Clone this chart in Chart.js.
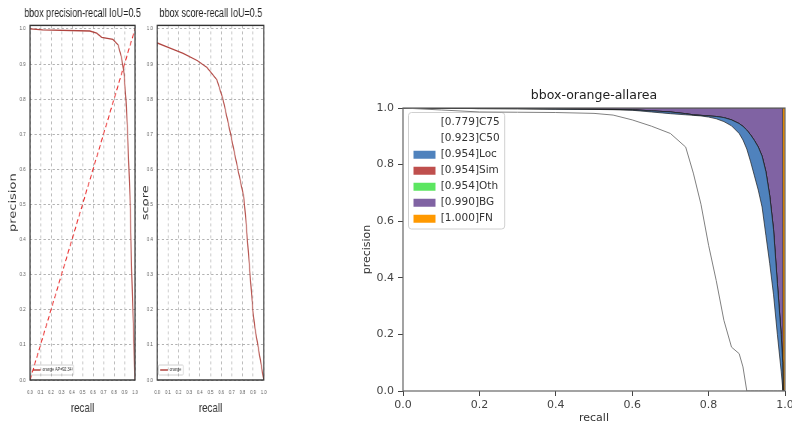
<!DOCTYPE html>
<html>
<head>
<meta charset="utf-8">
<script src="https://cdn.jsdelivr.net/npm/chart.js@4"></script>
<style>
  html, body { margin: 0; padding: 0; background: #fff; }
  #wrap { position: relative; width: 792px; height: 427px; overflow: hidden; }
  canvas { position: absolute; }
  /* the two small panels are squeezed sideways in the original figure */
  .narrow { transform: scaleX(0.75); transform-origin: 0 0; }
</style>
</head>
<body>
<div id="wrap">
  <canvas id="pr" class="narrow" width="220" height="427" style="left:0;top:0"></canvas>
  <canvas id="sr" class="narrow" width="221" height="427" style="left:128px;top:0"></canvas>
  <canvas id="area" width="450" height="347" style="left:355px;top:80px"></canvas>
</div>
<script>
// small panels: precision-recall and score-recall at IoU=0.5
const prRecall    = [0, 0.12, 0.57, 0.635, 0.683, 0.79, 0.84, 0.873, 0.895, 0.914, 0.93, 0.952, 0.968, 0.984, 1.0];
const prPrecision = [1.0, 0.997, 0.994, 0.988, 0.976, 0.970, 0.954, 0.916, 0.874, 0.798, 0.70, 0.522, 0.313, 0.152, 0.0];
const diagRecall    = [0, 1];
const diagPrecision = [0, 1];
const srRecall = [0, 0.12, 0.243, 0.374, 0.467, 0.56, 0.617, 0.682, 0.757, 0.813, 0.832, 0.869, 0.897, 0.916, 1.0];
const srScore  = [0.96, 0.945, 0.93, 0.91, 0.89, 0.855, 0.80, 0.71, 0.60, 0.52, 0.455, 0.31, 0.20, 0.15, 0.0];
const smallTicks = [0, 0.1, 0.2, 0.3, 0.4, 0.5, 0.6, 0.7, 0.8, 0.9, 1.0];

// big panel: bbox-orange-allarea
const recallGrid = [0, 0.1, 0.2, 0.3, 0.4, 0.5, 0.55, 0.6, 0.65, 0.7, 0.74, 0.76, 0.78, 0.8, 0.82, 0.84, 0.86, 0.88, 0.89, 0.9,
                    0.91, 0.92, 0.93, 0.94, 0.95, 0.96, 0.97, 0.98, 0.99, 0.994, 0.995, 1.0];
const c75P = [1.0, 0.993, 0.986, 0.985, 0.984, 0.981, 0.975, 0.958, 0.936, 0.91, 0.862, 0.77, 0.66, 0.515, 0.39, 0.25, 0.155, 0.132, 0.085, 0,
              0, 0, 0, 0, 0, 0, 0, 0, 0, 0, 0, 0];
const c50P = [1.0, 0.999, 0.998, 0.997, 0.996, 0.995, 0.994, 0.992, 0.986, 0.98, 0.976, 0.974, 0.972, 0.968, 0.962, 0.952, 0.937, 0.91, 0.887, 0.855,
              0.81, 0.76, 0.71, 0.65, 0.55, 0.45, 0.34, 0.2, 0.07, 0.01, 0, 0];
const locP = [1.0, 0.999, 0.998, 0.998, 0.997, 0.996, 0.995, 0.994, 0.99, 0.986, 0.98, 0.976, 0.974, 0.972, 0.97, 0.966, 0.958, 0.945, 0.935, 0.922,
              0.905, 0.885, 0.862, 0.83, 0.775, 0.69, 0.57, 0.38, 0.2, 0.1, 0, 0];
const simP = [1.0, 0.999, 0.998, 0.998, 0.997, 0.996, 0.995, 0.994, 0.99, 0.986, 0.98, 0.976, 0.974, 0.972, 0.97, 0.966, 0.958, 0.945, 0.935, 0.922,
              0.905, 0.885, 0.862, 0.83, 0.775, 0.69, 0.57, 0.38, 0.2, 0.1, 0, 0];
const othP = [1.0, 0.999, 0.998, 0.998, 0.997, 0.996, 0.995, 0.994, 0.99, 0.986, 0.98, 0.976, 0.974, 0.972, 0.97, 0.966, 0.958, 0.945, 0.935, 0.922,
              0.905, 0.885, 0.862, 0.83, 0.775, 0.69, 0.57, 0.38, 0.2, 0.1, 0, 0];
const bgP  = [1, 1, 1, 1, 1, 1, 1, 1, 1, 1, 1, 1, 1, 1, 1, 1, 1, 1, 1, 1,
              1, 1, 1, 1, 1, 1, 1, 1, 1, 1, 0, 0];
const fnP  = [1, 1, 1, 1, 1, 1, 1, 1, 1, 1, 1, 1, 1, 1, 1, 1, 1, 1, 1, 1,
              1, 1, 1, 1, 1, 1, 1, 1, 1, 1, 1, 1];
const seriesNames = ['[0.779]C75', '[0.923]C50', '[0.954]Loc', '[0.954]Sim', '[0.954]Oth', '[0.990]BG', '[1.000]FN'];
const seriesP = [c75P, c50P, locP, simP, othP, bgP, fnP];
const fillColors = ['rgb(255,255,255)', 'rgb(255,255,255)', 'rgb(79,130,189)', 'rgb(191,79,77)',
                    'rgb(92,230,97)', 'rgb(128,99,163)', 'rgb(255,153,0)'];
const areaTicks = [0, 0.2, 0.4, 0.6, 0.8, 1.0];

const pts = (xs, ys) => xs.map((x, i) => ({x: x, y: ys[i]}));

// frame round the plot (matplotlib spines)
const frame = {
  id: 'frame',
  afterDatasetsDraw(chart, args, o) {
    const {ctx, chartArea: a} = chart;
    ctx.save();
    ctx.strokeStyle = o.color;
    ctx.lineWidth = o.width;
    ctx.strokeRect(a.left, a.top, a.right - a.left, a.bottom - a.top);
    ctx.restore();
  }
};

// put the legend inside the plot and give it a box
const legendBox = {
  id: 'legendBox',
  afterLayout(chart, args, o) {
    const lg = chart.legend, a = chart.chartArea;
    lg.left = a.left + o.dx; lg.right = a.right;
    lg.top = a.top + o.dy; lg.bottom = a.bottom - o.dyb;
    lg.width = lg.right - lg.left; lg.height = lg.bottom - lg.top;
  },
  beforeDraw(chart, args, o) {
    const hb = chart.legend.legendHitBoxes;
    if (!hb || !hb.length) return;
    const x0 = Math.min(...hb.map(b => b.left)) - o.m;
    const x1 = Math.max(...hb.map(b => b.left + b.width)) + o.m;
    const y0 = Math.min(...hb.map(b => b.top)) - o.m;
    const y1 = Math.max(...hb.map(b => b.top + b.height)) + o.m;
    const ctx = chart.ctx;
    ctx.save();
    ctx.fillStyle = '#fff';
    ctx.strokeStyle = '#d0d0d0';
    ctx.lineWidth = 1;
    ctx.beginPath();
    if (ctx.roundRect) ctx.roundRect(x0, y0, x1 - x0, y1 - y0, o.r); else ctx.rect(x0, y0, x1 - x0, y1 - y0);
    ctx.fill();
    ctx.stroke();
    ctx.restore();
  }
};

const noStroke = ch => Chart.defaults.plugins.legend.labels.generateLabels(ch).map(l => Object.assign(l, {lineWidth: 0}));

function smallPanel(id, titleText, yTitle, yAxisWidth, yTitlePad, datasets) {
  const tickOpts = {
    font: {family: 'Liberation Sans', size: 5.5}, color: '#555', maxRotation: 0, autoSkip: false,
    callback: v => v.toFixed(1)
  };
  const gridOpts = {color: '#a0a0a0', lineWidth: 0.8, drawTicks: false};
  return new Chart(id, {
    type: 'line',
    data: {datasets: datasets},
    options: {
      responsive: false, animation: false, devicePixelRatio: 1, events: [],
      layout: {padding: {left: 0, right: 0, top: 0, bottom: 8}},
      scales: {
        x: {
          type: 'linear', min: 0, max: 1,
          afterBuildTicks: s => { s.ticks = smallTicks.map(v => ({value: v})); },
          afterFit: s => { s.height = 39; },
          grid: gridOpts,
          border: {display: false, dash: [3, 3]},
          ticks: Object.assign({padding: 9}, tickOpts),
          title: {display: true, text: 'recall', color: '#333',
                  font: {family: 'Liberation Sans', size: 13}, padding: {top: 0, bottom: 3}}
        },
        y: {
          type: 'linear', min: 0, max: 1.01,
          afterBuildTicks: s => { s.ticks = smallTicks.map(v => ({value: v})); },
          afterFit: s => { s.width = yAxisWidth; },
          grid: gridOpts,
          border: {display: false, dash: [3, 3]},
          ticks: Object.assign({padding: 6}, tickOpts),
          title: {display: true, text: yTitle, color: '#333',
                  font: {family: 'DejaVu Sans', size: 13}, padding: {top: yTitlePad, bottom: 0}}
        },
        // empty right-hand axis: only keeps the plot off the right edge so the title stays centred on it
        yRight: {
          position: 'right', display: true,
          afterFit: s => { s.width = 40; },
          grid: {display: false}, border: {display: false}, ticks: {display: false}
        }
      },
      plugins: {
        title: {display: true, text: titleText, color: '#1e1e1e',
                font: {family: 'Liberation Sans', size: 12, weight: 'normal'}, padding: {top: 6, bottom: 5}},
        legend: {
          position: 'chartArea', align: 'end',
          labels: {boxWidth: 10, boxHeight: 1.5, padding: 2.5, color: '#333',
                   font: {family: 'Liberation Sans', size: 5},
                   generateLabels: noStroke, filter: item => item.datasetIndex === 0}
        },
        legendBox: {dx: 1.5, dy: 0, dyb: 5, m: 2.5, r: 1},
        frame: {color: '#333', width: 1.4},
        tooltip: {enabled: false}
      }
    },
    plugins: [legendBox, frame]
  });
}

smallPanel('pr', 'bbox precision-recall IoU=0.5', 'precision', 40, 9.5, [
  {label: 'orange AP=92.34', data: pts(prRecall, prPrecision), borderColor: '#b0443f', backgroundColor: '#b0443f',
   borderWidth: 1.3, pointRadius: 0, fill: false},
  {label: 'diagonal', data: pts(diagRecall, diagPrecision), borderColor: '#e81e1e', backgroundColor: '#e81e1e',
   borderWidth: 1.2, borderDash: [5, 3], pointRadius: 0, fill: false}
]);

smallPanel('sr', 'bbox score-recall IoU=0.5', 'score', 39, 16, [
  {label: 'orange', data: pts(srRecall, srScore), borderColor: '#b0443f', backgroundColor: '#b0443f',
   borderWidth: 1.3, pointRadius: 0, fill: false}
]);

new Chart('area', {
  type: 'line',
  data: {
    datasets: seriesNames.map((name, k) => ({
      label: name,
      data: pts(recallGrid, seriesP[k]),
      borderColor: k === 0 ? '#808080' : '#1c1c1c',
      borderWidth: k === 0 ? 1 : 0.7,
      backgroundColor: fillColors[k],
      pointRadius: 0,
      fill: k < 2 ? false : '-1'
    }))
  },
  options: {
    responsive: false, animation: false, devicePixelRatio: 1, events: [],
    layout: {padding: {left: 0, right: 20, top: 0, bottom: 0}},
    scales: {
      x: {
        type: 'linear', min: 0, max: 1,
        afterBuildTicks: s => { s.ticks = areaTicks.map(v => ({value: v})); },
        afterFit: s => { s.height = 36; },
        grid: {drawOnChartArea: false, drawTicks: true, tickLength: 5, color: '#444', lineWidth: 1},
        border: {display: false},
        ticks: {font: {family: 'DejaVu Sans', size: 11}, color: '#444', padding: 3, maxRotation: 0,
                callback: v => v.toFixed(1)},
        title: {display: true, text: 'recall', color: '#333',
                font: {family: 'DejaVu Sans', size: 11}, padding: {top: 0, bottom: 2}}
      },
      y: {
        type: 'linear', min: 0, max: 1,
        afterBuildTicks: s => { s.ticks = areaTicks.map(v => ({value: v})); },
        afterFit: s => { s.width = 48; },
        grid: {drawOnChartArea: false, drawTicks: true, tickLength: 5, color: '#444', lineWidth: 1},
        border: {display: false},
        ticks: {font: {family: 'DejaVu Sans', size: 11}, color: '#444', padding: 4,
                callback: v => v.toFixed(1)},
        title: {display: true, text: 'precision', color: '#333',
                font: {family: 'DejaVu Sans', size: 11}, padding: {top: 6, bottom: 0}}
      }
    },
    plugins: {
      title: {display: true, text: 'bbox-orange-allarea', fullSize: false, color: '#222',
              font: {family: 'DejaVu Sans', size: 12.5, weight: 'normal'}, padding: {top: 8.5, bottom: 4.5}},
      legend: {
        position: 'chartArea', align: 'start',
        labels: {boxWidth: 22, boxHeight: 8, padding: 5.5, color: '#333',
                 font: {family: 'DejaVu Sans', size: 10.5}, generateLabels: noStroke}
      },
      legendBox: {dx: 5, dy: 4, dyb: 0, m: 5, r: 3},
      frame: {color: '#666', width: 1.2},
      tooltip: {enabled: false}
    }
  },
  plugins: [legendBox, frame]
});
</script>
</body>
</html>
